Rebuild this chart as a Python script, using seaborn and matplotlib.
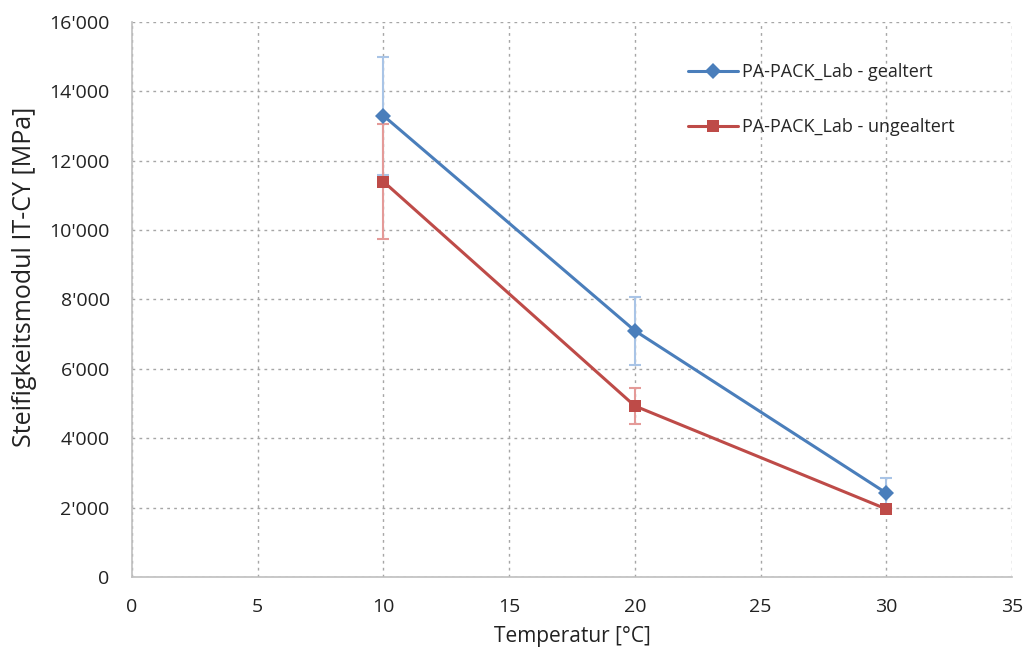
import matplotlib
matplotlib.use('Agg')
import matplotlib.pyplot as plt
import matplotlib.ticker as mticker
import seaborn as sns
import pandas as pd

temperatures = [10, 20, 30]
gealtert = [13300, 7100, 2420]
gealtert_err = [1700, 980, 430]
ungealtert = [11400, 4930, 1960]
ungealtert_err = [1650, 520, 0]
series_names = ['PA-PACK_Lab - gealtert', 'PA-PACK_Lab - ungealtert']

df = pd.DataFrame({
    'Temperatur': temperatures * 2,
    'Modul': gealtert + ungealtert,
    'Serie': [series_names[0]] * 3 + [series_names[1]] * 3,
})

sns.set_style('white')
plt.rcParams['font.family'] = ['Open Sans', 'DejaVu Sans']

colors = {series_names[0]: '#4A7EBB', series_names[1]: '#BE4B48'}
err_colors = {series_names[0]: '#A9C4E6', series_names[1]: '#E49A98'}

fig = plt.figure(figsize=(10.31, 6.53), dpi=100)
ax = fig.add_axes([0.128, 0.1164, 0.8536, 0.8499])

# error bars first so the lines sit on top
for name, vals, errs in [(series_names[0], gealtert, gealtert_err),
                         (series_names[1], ungealtert, ungealtert_err)]:
    ax.errorbar(temperatures, vals, yerr=errs, fmt='none', ecolor=err_colors[name],
                elinewidth=1.5, capsize=4, capthick=1.5, zorder=2)

sns.lineplot(data=df, x='Temperatur', y='Modul', hue='Serie', style='Serie',
             palette=colors, markers={series_names[0]: 'D', series_names[1]: 's'},
             dashes=False, markersize=8, linewidth=2.2, markeredgewidth=0,
             ax=ax, zorder=3)

ax.set_xlim(0, 35)
ax.set_ylim(0, 16000)
ax.set_xticks(range(0, 36, 5))
ax.set_yticks(range(0, 16001, 2000))
ax.yaxis.set_major_formatter(mticker.FuncFormatter(
    lambda v, p: f'{int(v):,}'.replace(',', "'")))

ax.grid(True, linestyle=(0, (2, 3)), color='#A6A6A6', linewidth=1)
for s in ['top', 'right']:
    ax.spines[s].set_visible(False)
for s in ['left', 'bottom']:
    ax.spines[s].set_color('#BFBFBF')
    ax.spines[s].set_linewidth(1.2)
ax.tick_params(axis='both', which='major', direction='out', length=5, width=1,
               color='#BFBFBF', labelsize=14, labelcolor='#222222')
ax.tick_params(axis='x', pad=10)
ax.tick_params(axis='y', pad=11)

ax.set_xlabel('Temperatur [°C]', fontsize=15, color='#222222', labelpad=7)
ax.set_ylabel('Steifigkeitsmodul IT-CY [MPa]', fontsize=18, color='#222222')
ax.yaxis.set_label_coords(-0.108, 0.54)

ax.legend(title=None, frameon=False, loc='upper left', bbox_to_anchor=(0.613, 0.955),
          fontsize=13, labelspacing=2.05, handlelength=2.8, handletextpad=0.2)

plt.savefig('out.png', dpi=100)
